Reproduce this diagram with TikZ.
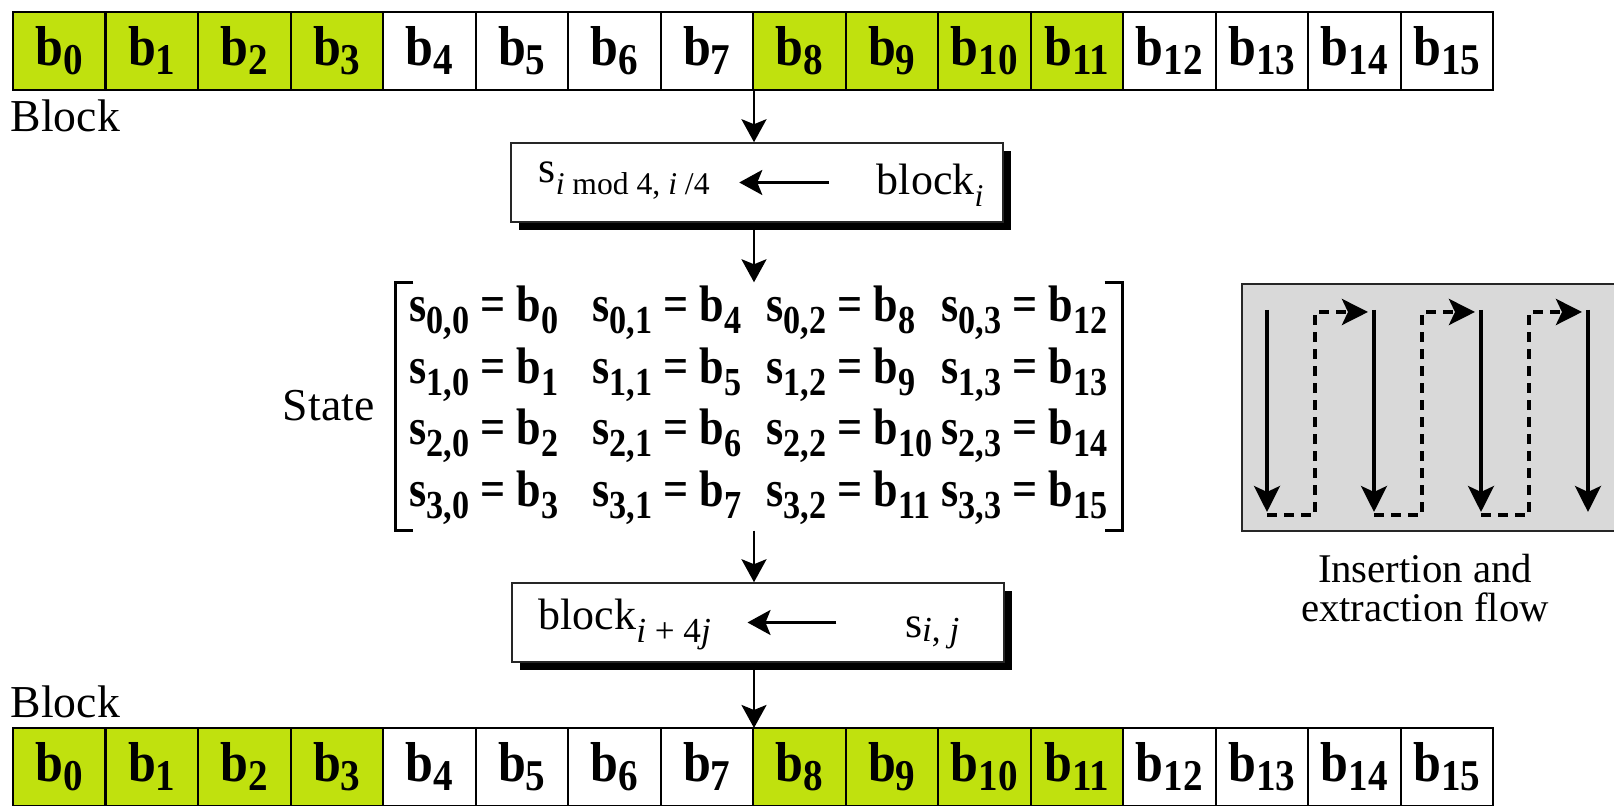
\documentclass[tikz,border=0pt]{standalone}
\usepackage{fontspec}
\setmainfont{Liberation Serif}
\newfontfamily\cellfont{Liberation Serif}[FakeStretch=0.89]
\newfontfamily\entryfont{Liberation Serif}[FakeStretch=0.86]
\usepackage{tikz}
\usetikzlibrary{arrows.meta,positioning,shadows}
\definecolor{lime}{RGB}{192,225,14}
\definecolor{panelgray}{RGB}{217,217,217}
\newcommand{\dn}[3]{\raisebox{-#1}{\fontsize{#2}{#2}\selectfont #3}}

\begin{document}
\begin{tikzpicture}[x=0.1mm,y=-0.1mm,
  cell/.style={draw,line width=0.2mm,minimum width=9.25mm,minimum height=7.8mm,
    inner sep=0pt,outer sep=0pt,anchor=north west,
    font=\cellfont\bfseries\fontsize{16}{18}\selectfont},
  entry/.style={inner sep=0pt,anchor=base west,
    font=\entryfont\bfseries\fontsize{14.6}{16}\selectfont},
  lbl/.style={inner sep=0pt,font=\fontsize{13}{15}\selectfont},
  txt/.style={inner sep=0pt,font=\fontsize{12.5}{14}\selectfont},
  stepbox/.style={draw=black!85,line width=0.15mm,fill=white,
    minimum width=49.2mm,minimum height=7.9mm,inner sep=0pt,
    general shadow={fill=black,shadow xshift=0.75mm,shadow yshift=-0.85mm}},
  panel/.style={draw=black!85,line width=0.2mm,fill=panelgray,anchor=north west,
    minimum width=40mm,minimum height=24.7mm,inner sep=0pt},
  arr/.style={-{Stealth[length=2.3mm,width=2.5mm,inset=0.5mm]},line width=0.28mm},
  brk/.style={line width=0.28mm},
  flowarr/.style={-{Stealth[length=2.6mm,width=2.6mm,inset=0.6mm]},line width=0.33mm},
  flowdash/.style={flowarr,line width=0.4mm,dash pattern=on 1mm off 0.7mm}]

\useasboundingbox (0,0) rectangle (1614,806);

\foreach \i in {0,...,15}{
  \pgfmathtruncatemacro{\g}{mod(floor(\i/4),2)}
  \def\cellfill{white}
  \ifnum\g=0 \def\cellfill{lime}\fi
  \node[cell,fill=\cellfill] (top\i) at (13+92.5*\i,12) {b\dn{0.9mm}{12.5}{\i}};
  \node[cell,fill=\cellfill] (bot\i) at (13+92.5*\i,728) {b\dn{0.9mm}{12.5}{\i}};
}
\node[lbl,anchor=base west] (blktop) at (10,132) {Block};
\node[lbl,anchor=base west] (blkbot) at (10,718) {Block};

\coordinate (spine) at (754,0);

\node[stepbox] (ins) at (757,182.5) {};
\node[txt,anchor=base west] (sidx) at (538,183) {s\dn{1.2mm}{9}{\textit{i} mod 4, \textit{i} /4}};
\node[txt,anchor=base east] (bidx) at (984,195) {block\dn{1.2mm}{9}{\textit{i}}};
\draw[arr,shorten <=4.7mm,shorten >=2.9mm] (bidx.west |- ins.center) -- (sidx.east |- ins.center);

\node[minimum width=72.6mm,minimum height=24.7mm,inner sep=0pt] (mat) at (759,406.5) {};
\draw[brk] ([xshift=1.8mm]mat.north west) -- (mat.north west) -- (mat.south west) -- ([xshift=1.8mm]mat.south west);
\draw[brk] ([xshift=-1.8mm]mat.north east) -- (mat.north east) -- (mat.south east) -- ([xshift=-1.8mm]mat.south east);
\foreach \c/\x in {0/409,1/592,2/766,3/941}
  \foreach \r in {0,...,3}{
    \pgfmathtruncatemacro{\n}{\r+4*\c}
    \node[entry] (s\r\c) at (\x,322+61.5*\r) {s\dn{1.2mm}{11.3}{\r,\c} = b\dn{1.2mm}{11.3}{\n}};
  }
\node[lbl,anchor=base east] (statelbl) at (375,421) {State};

\node[stepbox] (ext) at (758,622.5) {};
\node[txt,anchor=base west] (bsum) at (538,630) {block\dn{1.3mm}{10}{\textit{i} + 4\textit{j}}};
\node[txt,anchor=base east] (sij) at (960,638) {s\dn{0.4mm}{10}{\textit{i}, \textit{j}}};
\draw[arr,shorten <=6.8mm,shorten >=3.6mm] (sij.west |- ext.center) -- (bsum.east |- ext.center);

\draw[arr] (spine |- top7.south) -- (spine |- ins.north);
\draw[arr] (spine |- ins.south) -- (spine |- mat.north);
\draw[arr] (spine |- mat.south) -- (spine |- ext.north);
\draw[arr] (spine |- ext.south) -- (spine |- bot8.north);

\node[panel] (flow) at (1241,283) {};
\foreach \k in {0,...,3}
  \draw[flowarr] (1267+107*\k,310) -- (1267+107*\k,512);
\foreach \k in {0,1,2}
  \draw[flowdash] (1267+107*\k,515) -- (1315+107*\k,515) -- (1315+107*\k,312) -- (1368+107*\k,312);
\node[align=center,inner sep=0pt,font=\fontsize{11.6}{11}\selectfont] (flowcap) at (1425,588) {Insertion and\\extraction flow};
\end{tikzpicture}
\end{document}
